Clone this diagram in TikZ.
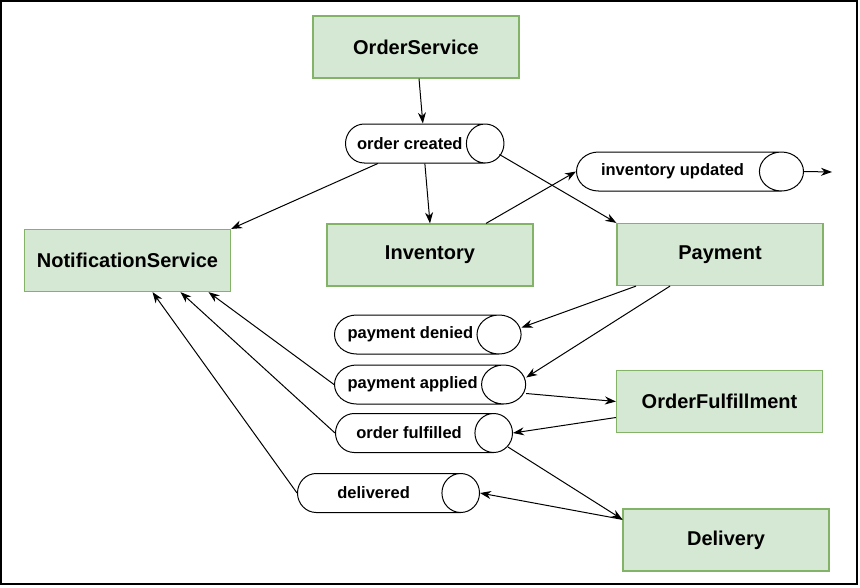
\documentclass[tikz,border=0pt]{standalone}
\usepackage{fontspec}
\setmainfont{Liberation Sans}
\usetikzlibrary{shapes.geometric,arrows.meta}
\definecolor{boxfill}{HTML}{D5E8D4}
\definecolor{boxline}{HTML}{82B366}
\begin{document}
\begin{tikzpicture}[x=1pt,y=-1pt,
service/.style={
  draw=boxline,
  fill=boxfill,
  line width=1.2pt,
  minimum width=206pt,
  minimum height=62pt,
  font=\bfseries\fontsize{20}{24}\selectfont
},
topic/.style={
  draw,
  fill=white,
  cylinder,
  anchor=west,
  shape aspect=2,
  line width=1pt,
  minimum width=39pt,
  minimum height=#1,
  font=\bfseries\fontsize{16.5}{20}\selectfont
},
flow/.style={-{Stealth[length=11pt,width=8pt,inset=3.5pt]}, line width=1pt}
]
\useasboundingbox (0,0) rectangle (860,587);
\draw[line width=2pt] (1,1) rectangle (857,584);

\node[service] (os) at (416,47) {OrderService};
\node[service] (notif) at (127.5,260.5) {NotificationService};
\node[service] (inv) at (430,255) {Inventory};
\node[service] (pay) at (720,254.5) {Payment};
\node[service] (ful) at (719.5,401.5) {OrderFulfillment};
\node[service] (del) at (726,540) {Delivery};

\node[topic=154pt] (created) at (345,143.5) {order created};
\node[topic=227pt] (updated) at (576,171.5) {inventory updated};
\node[topic=185pt] (denied) at (334,334.5) {payment denied};
\node[topic=185pt] (applied) at (334,384.5) {payment applied};
\node[topic=177pt] (fulfilled) at (335,433) {order fulfilled};
\node[topic=182pt] (dlv) at (297,493) {delivered};
\coordinate (out) at (832,172);

\draw[flow] ([xshift=3pt]os.south) -- ([xshift=13pt]created.north);
\draw[flow] ([xshift=-32pt]created.south) -- (notif.north east);
\draw[flow] ([xshift=15pt]created.south) -- (inv.north);
\draw[flow] ([xshift=-5pt,yshift=-11pt]created.top) -- (pay.north west);
\draw[flow] ([xshift=56pt]inv.north) -- (updated.west);
\draw[flow] (updated.east) -- (out);
\draw[flow] ([xshift=-84pt]pay.south) -- ([yshift=7pt]denied.east);
\draw[flow] ([xshift=-50pt]pay.south) -- ([yshift=7pt]applied.east);
\draw[flow] ([yshift=-9pt]applied.east) -- (ful.west);
\draw[flow] ([yshift=-16pt]ful.west) -- (fulfilled.east);
\draw[flow] ([xshift=-5pt,yshift=-14pt]fulfilled.top) -- ([yshift=-11pt]del.north west);
\draw[flow] ([yshift=-11pt]del.north west) -- (dlv.east);
\draw[flow] (applied.west) -- ([xshift=81pt]notif.south);
\draw[flow] (fulfilled.west) -- ([xshift=53pt]notif.south);
\draw[flow] (dlv.west) -- ([xshift=25pt]notif.south);
\end{tikzpicture}
\end{document}
